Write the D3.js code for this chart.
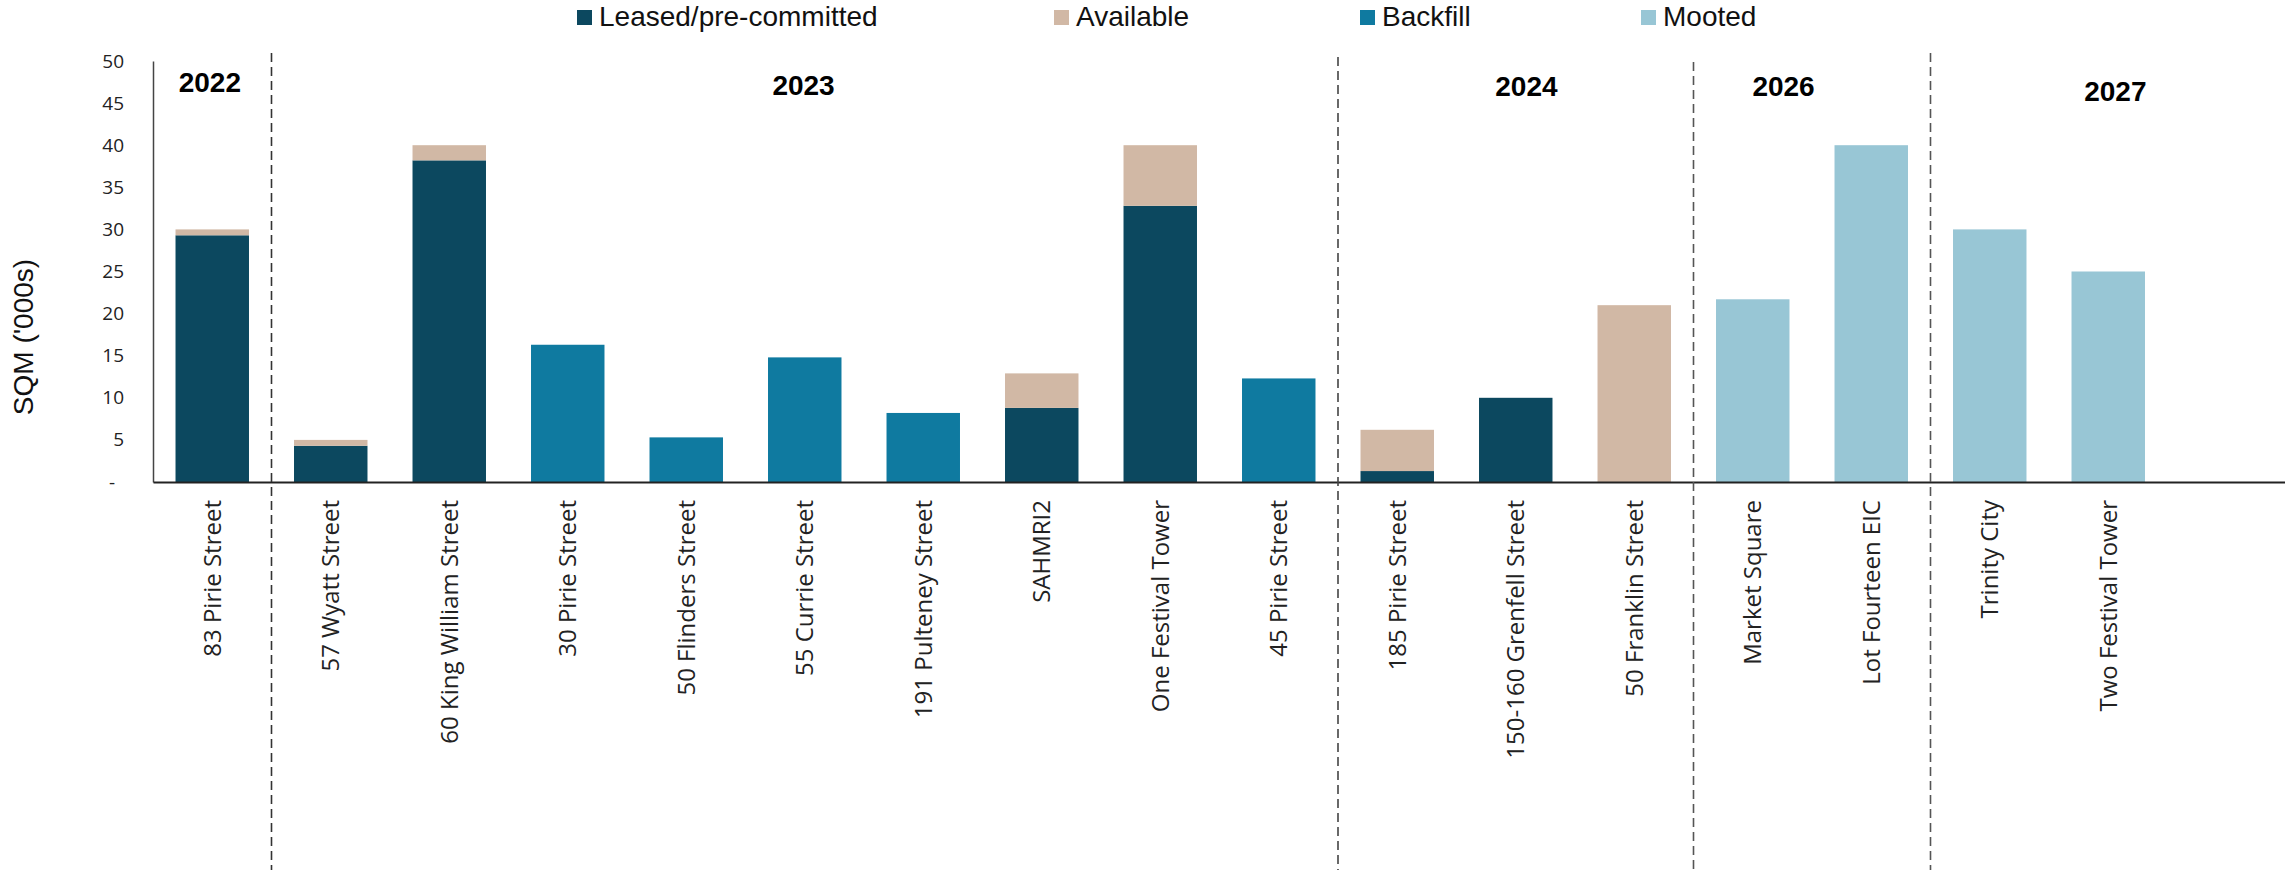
<!DOCTYPE html>
<html>
<head>
<meta charset="utf-8">
<script src="https://cdn.jsdelivr.net/npm/d3@7"></script>
<style>
  html, body { margin: 0; padding: 0; background: #ffffff; }
  svg { display: block; }
</style>
</head>
<body>
<svg id="chart" width="2285" height="875"></svg>
<script>
// ---------------- DATA ----------------
const categories = [
  "83 Pirie Street", "57 Wyatt Street", "60 King William Street", "30 Pirie Street",
  "50 Flinders Street", "55 Currie Street", "191 Pulteney Street", "SAHMRI2",
  "One Festival Tower", "45 Pirie Street", "185 Pirie Street", "150-160 Grenfell Street",
  "50 Franklin Street", "Market Square", "Lot Fourteen EIC", "Trinity City", "Two Festival Tower"
];
const leased    = [29.3, 4.3, 38.2, 0,    0,   0,    0,   8.8, 32.8, 0,    1.3, 10.0, 0,    0,    0,    0,    0];
const available = [0.7,  0.7, 1.8,  0,    0,   0,    0,   4.1, 7.2,  0,    4.9, 0,    21.0, 0,    0,    0,    0];
const backfill  = [0,    0,   0,    16.3, 5.3, 14.8, 8.2, 0,   0,    12.3, 0,   0,    0,    0,    0,    0,    0];
const mooted    = [0,    0,   0,    0,    0,   0,    0,   0,   0,    0,    0,   0,    0,    21.7, 40.0, 30.0, 25.0];

const seriesNames = ["Leased/pre-committed", "Available", "Backfill", "Mooted"];
const seriesKeys  = ["leased", "available", "backfill", "mooted"];
const seriesColors = ["#0c485f", "#d1b8a5", "#0f7aa0", "#98c6d5"];

const yTicks = [0, 5, 10, 15, 20, 25, 30, 35, 40, 45, 50];
const yTitle = "SQM ('000s)";

const yearLabels = ["2022", "2023", "2024", "2026", "2027"];
// group boundaries (category index after which a dashed divider is drawn)
const dividerAfter = [0, 9, 12, 14];

// ---------------- LAYOUT ----------------
const plotLeft = 153, plotRight = 2286, plotTop = 61, plotBottom = 482;
// year label placement in category-step units, and baseline y
const yearPos = [0.48, 5.49, 11.59, 13.76, 16.56];
const yearBase = [92, 95, 96, 96, 101];
const dividerTop = [53, 53, 57, 62, 53];
const dividerColor = ["#333", "#333", "#444", "#555", "#555"];

const svg = d3.select("#chart");

const rows = categories.map((c, i) => ({
  cat: c, leased: leased[i], available: available[i], backfill: backfill[i], mooted: mooted[i]
}));

const xDomain = categories.concat([" "]); // one trailing empty slot
const x = d3.scaleBand().domain(xDomain).range([plotLeft, plotRight])
  .paddingInner(0.38).paddingOuter(0.19);
const y = d3.scaleLinear().domain([0, 50]).range([plotBottom, plotTop]);

const stack = d3.stack().keys(seriesKeys);
const stacked = stack(rows);

// bars
const g = svg.append("g");
stacked.forEach((layer, li) => {
  g.selectAll(".b" + li)
    .data(layer.filter(d => d[1] - d[0] > 0))
    .enter().append("rect")
    .attr("x", d => x(d.data.cat))
    .attr("width", x.bandwidth())
    .attr("y", d => y(d[1]))
    .attr("height", d => y(d[0]) - y(d[1]))
    .attr("fill", seriesColors[li]);
});

// y axis
const yAxis = d3.axisLeft(y).tickValues(yTicks).tickSize(0).tickPadding(29)
  .tickFormat(d => d === 0 ? "-" : d);
const yg = svg.append("g").attr("transform", `translate(${plotLeft},0)`).call(yAxis);
yg.select(".domain").attr("stroke", "#444").attr("stroke-width", 1.5);
yg.selectAll("text").attr("font-family", "'Open Sans', sans-serif").attr("font-size", 19)
  .attr("fill", "#222");
yg.selectAll(".tick").filter(d => d === 0).select("text").attr("dx", -9);

// x axis
const xAxis = d3.axisBottom(x).tickSize(0).tickSizeOuter(0).tickPadding(0);
const xg = svg.append("g").attr("transform", `translate(0,${plotBottom})`).call(xAxis);
xg.select(".domain").attr("stroke", "#222").attr("stroke-width", 2.2);
xg.selectAll(".tick text")
  .attr("font-family", "'Open Sans', sans-serif").attr("font-size", 24).attr("fill", "#222")
  .attr("text-anchor", "end")
  .attr("transform", "rotate(-90)")
  .attr("x", -18).attr("y", 0).attr("dy", "0.36em");

// dividers
const step = x.step();
const start = x.range()[0];
dividerAfter.forEach((k, i) => {
  const xx = start + step * (k + 1);
  svg.append("line")
    .attr("x1", xx).attr("x2", xx)
    .attr("y1", dividerTop[i + 1] || 53).attr("y2", 870)
    .attr("stroke", dividerColor[i + 1]).attr("stroke-width", 1.6)
    .attr("stroke-dasharray", "9,5");
});

// year labels
yearLabels.forEach((t, i) => {
  svg.append("text")
    .attr("x", start + step * yearPos[i]).attr("y", yearBase[i])
    .attr("text-anchor", "middle")
    .attr("font-family", "'Liberation Sans', Arial, sans-serif")
    .attr("font-weight", "bold").attr("font-size", 28).attr("fill", "#000")
    .text(t);
});

// y title
svg.append("text")
  .attr("transform", "translate(33,337) rotate(-90)")
  .attr("text-anchor", "middle")
  .attr("font-family", "'Liberation Sans', Arial, sans-serif")
  .attr("font-size", 28).attr("fill", "#111")
  .text(yTitle);

// legend
const legendX = [577, 1054, 1360, 1641];
const lg = svg.append("g");
seriesNames.forEach((n, i) => {
  lg.append("rect").attr("x", legendX[i]).attr("y", 10).attr("width", 15).attr("height", 15)
    .attr("fill", seriesColors[i]);
  lg.append("text").attr("x", legendX[i] + 22).attr("y", 26)
    .attr("font-family", "'Liberation Sans', Arial, sans-serif")
    .attr("font-size", 28).attr("fill", "#111")
    .text(n);
});
</script>
</body>
</html>
